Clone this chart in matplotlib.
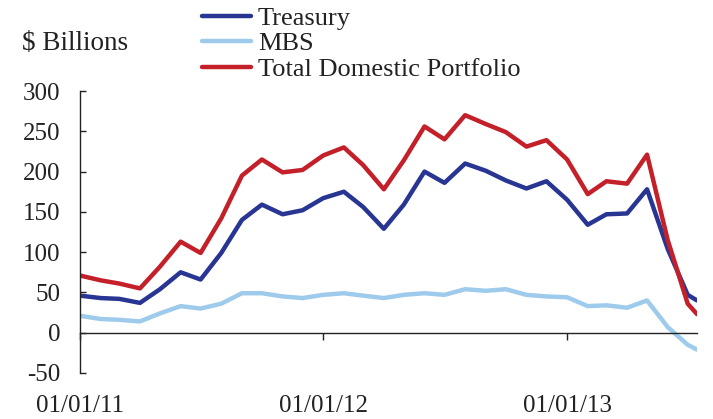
import datetime as dt
import matplotlib
matplotlib.use("Agg")
import matplotlib.pyplot as plt
import matplotlib.dates as mdates

# monthly observations Jan 2011 - Jul 2013, plus a final mid-July reading
dates = [dt.date(2011 + m // 12, m % 12 + 1, 1) for m in range(31)] + [dt.date(2013, 7, 15)]

treasury = [46, 43, 42, 37, 54, 75, 66, 99, 140, 159, 147, 152, 167, 175, 156, 129,
            159, 200, 186, 210, 201, 189, 179, 188, 165, 134, 147, 148, 178, 104, 47, 40]
mbs = [21, 17, 16, 14, 24, 33, 30, 36, 49, 49, 45, 43, 47, 49, 46, 43,
       47, 49, 47, 54, 52, 54, 47, 45, 44, 33, 34, 31, 40, 7, -15, -21]
total = [71, 65, 61, 55, 82, 113, 99, 142, 195, 215, 199, 202, 220, 230, 208, 178,
         214, 256, 240, 270, 259, 249, 231, 239, 215, 172, 188, 185, 221, 115, 36, 23]

yticks = [-50, 0, 50, 100, 150, 200, 250, 300]
xticks = [dt.date(2011, 1, 1), dt.date(2012, 1, 1), dt.date(2013, 1, 1)]

plt.rcParams['font.family'] = 'Liberation Serif'
plt.rcParams['font.size'] = 18
plt.rcParams['axes.unicode_minus'] = False

fig = plt.figure(figsize=(7.13, 4.19), dpi=100)
ax = fig.add_axes([0.1122, 0.1098, 0.8654, 0.673])

ax.plot(dates, treasury, color='#283593', lw=3.2, label='Treasury', solid_capstyle='round')
ax.plot(dates, mbs, color='#9ecbec', lw=3.2, label='MBS', solid_capstyle='round')
ax.plot(dates, total, color='#c4202a', lw=3.2, label='Total Domestic Portfolio', solid_capstyle='round')

ax.set_xlim(dates[0], dates[-1])
ax.set_ylim(-50, 300)
ax.set_yticks(yticks)
ax.set_xticks(xticks)
ax.xaxis.set_major_formatter(mdates.DateFormatter('%m/%d/%y'))

ax.spines['top'].set_visible(False)
ax.spines['right'].set_visible(False)
ax.spines['bottom'].set_position(('data', 0))
for s in ['left', 'bottom']:
    ax.spines[s].set_linewidth(1.0)
    ax.spines[s].set_color('#222222')

ax.tick_params(axis='y', direction='in', length=4, width=1, pad=14, colors='#222222')
ax.tick_params(axis='x', direction='out', length=5, width=1, pad=40, colors='#222222')

fig.text(0.031, 0.895, '$ Billions', fontsize=19.5, va='center', ha='left', color='#222222')

leg = fig.legend(loc='upper left', bbox_to_anchor=(0.269, 1.01), frameon=False,
                 fontsize=19, handlelength=1.85, handletextpad=0.25, labelspacing=0.08,
                 borderaxespad=0)
for t in leg.get_texts():
    t.set_color('#222222')

plt.savefig('out.png', dpi=100)
